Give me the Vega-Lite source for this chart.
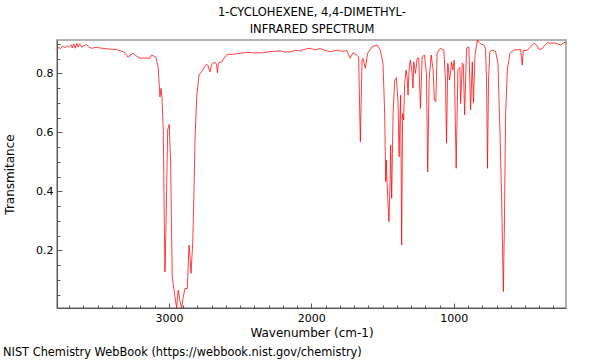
{
  "$schema": "https://vega.github.io/schema/vega-lite/v6.json",
  "width": 509,
  "height": 268,
  "autosize": {"type": "none"},
  "padding": {"left": 57, "top": 40, "right": 34, "bottom": 52},
  "background": "white",
  "config": {
    "font": "DejaVu Sans",
    "view": {"stroke": "#999999", "strokeWidth": 1.5}
  },
  "title": {
    "text": "NIST Chemistry WebBook (https://webbook.nist.gov/chemistry)",
    "orient": "bottom",
    "anchor": "start",
    "frame": "group",
    "dx": -54,
    "offset": 9,
    "fontSize": 11.4,
    "fontWeight": "normal",
    "color": "#000000"
  },
  "data": {
    "values": [
      {"wn": 3786, "T": 0.879}, {"wn": 3774, "T": 0.888}, {"wn": 3760, "T": 0.884}, {"wn": 3746, "T": 0.893},
      {"wn": 3732, "T": 0.886}, {"wn": 3718, "T": 0.894}, {"wn": 3704, "T": 0.889}, {"wn": 3689, "T": 0.897},
      {"wn": 3679, "T": 0.886}, {"wn": 3668, "T": 0.899}, {"wn": 3658, "T": 0.885}, {"wn": 3647, "T": 0.902},
      {"wn": 3637, "T": 0.889}, {"wn": 3626, "T": 0.9}, {"wn": 3612, "T": 0.888}, {"wn": 3598, "T": 0.893},
      {"wn": 3579, "T": 0.898}, {"wn": 3563, "T": 0.889}, {"wn": 3542, "T": 0.885}, {"wn": 3509, "T": 0.888},
      {"wn": 3485, "T": 0.886}, {"wn": 3450, "T": 0.884}, {"wn": 3415, "T": 0.882}, {"wn": 3368, "T": 0.881},
      {"wn": 3338, "T": 0.876}, {"wn": 3317, "T": 0.872}, {"wn": 3302, "T": 0.865}, {"wn": 3286, "T": 0.854},
      {"wn": 3274, "T": 0.862}, {"wn": 3251, "T": 0.868}, {"wn": 3232, "T": 0.86}, {"wn": 3204, "T": 0.851},
      {"wn": 3169, "T": 0.852}, {"wn": 3134, "T": 0.851}, {"wn": 3122, "T": 0.862}, {"wn": 3106, "T": 0.858},
      {"wn": 3091, "T": 0.854}, {"wn": 3075, "T": 0.817}, {"wn": 3063, "T": 0.72}, {"wn": 3056, "T": 0.749},
      {"wn": 3049, "T": 0.72}, {"wn": 3040, "T": 0.608}, {"wn": 3028, "T": 0.127}, {"wn": 3021, "T": 0.269},
      {"wn": 3009, "T": 0.608}, {"wn": 2998, "T": 0.627}, {"wn": 2988, "T": 0.496}, {"wn": 2977, "T": 0.11},
      {"wn": 2958, "T": 0.043}, {"wn": 2946, "T": 0.004}, {"wn": 2935, "T": 0.065}, {"wn": 2923, "T": 0.03},
      {"wn": 2911, "T": 0.004}, {"wn": 2899, "T": 0.043}, {"wn": 2887, "T": 0.071}, {"wn": 2871, "T": 0.07},
      {"wn": 2859, "T": 0.218}, {"wn": 2852, "T": 0.178}, {"wn": 2845, "T": 0.122}, {"wn": 2833, "T": 0.224},
      {"wn": 2824, "T": 0.404}, {"wn": 2817, "T": 0.574}, {"wn": 2805, "T": 0.72}, {"wn": 2789, "T": 0.794},
      {"wn": 2770, "T": 0.805}, {"wn": 2754, "T": 0.82}, {"wn": 2735, "T": 0.831}, {"wn": 2726, "T": 0.826},
      {"wn": 2712, "T": 0.805}, {"wn": 2701, "T": 0.828}, {"wn": 2693, "T": 0.834}, {"wn": 2676, "T": 0.837},
      {"wn": 2666, "T": 0.83}, {"wn": 2660, "T": 0.802}, {"wn": 2653, "T": 0.83}, {"wn": 2646, "T": 0.837},
      {"wn": 2629, "T": 0.839}, {"wn": 2613, "T": 0.852}, {"wn": 2590, "T": 0.864}, {"wn": 2548, "T": 0.865},
      {"wn": 2501, "T": 0.868}, {"wn": 2453, "T": 0.871}, {"wn": 2395, "T": 0.869}, {"wn": 2337, "T": 0.87},
      {"wn": 2289, "T": 0.874}, {"wn": 2219, "T": 0.876}, {"wn": 2184, "T": 0.872}, {"wn": 2149, "T": 0.873},
      {"wn": 2114, "T": 0.878}, {"wn": 2078, "T": 0.876}, {"wn": 2043, "T": 0.882}, {"wn": 2008, "T": 0.885},
      {"wn": 1973, "T": 0.88}, {"wn": 1938, "T": 0.884}, {"wn": 1903, "T": 0.878}, {"wn": 1867, "T": 0.873},
      {"wn": 1820, "T": 0.879}, {"wn": 1790, "T": 0.875}, {"wn": 1750, "T": 0.877}, {"wn": 1727, "T": 0.851},
      {"wn": 1708, "T": 0.87}, {"wn": 1684, "T": 0.862}, {"wn": 1668, "T": 0.856}, {"wn": 1656, "T": 0.568},
      {"wn": 1644, "T": 0.845}, {"wn": 1637, "T": 0.851}, {"wn": 1621, "T": 0.817}, {"wn": 1605, "T": 0.868},
      {"wn": 1574, "T": 0.89}, {"wn": 1539, "T": 0.896}, {"wn": 1516, "T": 0.879}, {"wn": 1497, "T": 0.834},
      {"wn": 1485, "T": 0.664}, {"wn": 1478, "T": 0.433}, {"wn": 1474, "T": 0.506}, {"wn": 1469, "T": 0.438},
      {"wn": 1462, "T": 0.359}, {"wn": 1455, "T": 0.297}, {"wn": 1447, "T": 0.438}, {"wn": 1443, "T": 0.557},
      {"wn": 1436, "T": 0.376}, {"wn": 1426, "T": 0.664}, {"wn": 1415, "T": 0.777}, {"wn": 1403, "T": 0.785},
      {"wn": 1391, "T": 0.698}, {"wn": 1384, "T": 0.517}, {"wn": 1377, "T": 0.664}, {"wn": 1373, "T": 0.726},
      {"wn": 1366, "T": 0.218}, {"wn": 1359, "T": 0.664}, {"wn": 1352, "T": 0.642}, {"wn": 1345, "T": 0.766},
      {"wn": 1335, "T": 0.811}, {"wn": 1328, "T": 0.789}, {"wn": 1321, "T": 0.726}, {"wn": 1314, "T": 0.811},
      {"wn": 1305, "T": 0.845}, {"wn": 1293, "T": 0.8}, {"wn": 1286, "T": 0.75}, {"wn": 1281, "T": 0.839},
      {"wn": 1269, "T": 0.8}, {"wn": 1257, "T": 0.851}, {"wn": 1246, "T": 0.852}, {"wn": 1234, "T": 0.681},
      {"wn": 1222, "T": 0.856}, {"wn": 1206, "T": 0.862}, {"wn": 1192, "T": 0.8}, {"wn": 1183, "T": 0.466},
      {"wn": 1173, "T": 0.777}, {"wn": 1159, "T": 0.862}, {"wn": 1145, "T": 0.811}, {"wn": 1136, "T": 0.709},
      {"wn": 1126, "T": 0.704}, {"wn": 1117, "T": 0.868}, {"wn": 1094, "T": 0.885}, {"wn": 1070, "T": 0.879},
      {"wn": 1058, "T": 0.777}, {"wn": 1051, "T": 0.563}, {"wn": 1042, "T": 0.834}, {"wn": 1030, "T": 0.777},
      {"wn": 1023, "T": 0.8}, {"wn": 1016, "T": 0.839}, {"wn": 1006, "T": 0.811}, {"wn": 997, "T": 0.845},
      {"wn": 983, "T": 0.478}, {"wn": 971, "T": 0.811}, {"wn": 957, "T": 0.82}, {"wn": 952, "T": 0.698},
      {"wn": 940, "T": 0.835}, {"wn": 933, "T": 0.83}, {"wn": 924, "T": 0.659}, {"wn": 910, "T": 0.885},
      {"wn": 894, "T": 0.89}, {"wn": 882, "T": 0.676}, {"wn": 870, "T": 0.839}, {"wn": 862, "T": 0.7},
      {"wn": 851, "T": 0.86}, {"wn": 834, "T": 0.913}, {"wn": 822, "T": 0.905}, {"wn": 812, "T": 0.9},
      {"wn": 789, "T": 0.896}, {"wn": 777, "T": 0.885}, {"wn": 770, "T": 0.777}, {"wn": 763, "T": 0.478},
      {"wn": 756, "T": 0.777}, {"wn": 747, "T": 0.873}, {"wn": 730, "T": 0.879}, {"wn": 707, "T": 0.875},
      {"wn": 690, "T": 0.834}, {"wn": 676, "T": 0.608}, {"wn": 664, "T": 0.382}, {"wn": 652, "T": 0.06},
      {"wn": 645, "T": 0.269}, {"wn": 636, "T": 0.664}, {"wn": 624, "T": 0.811}, {"wn": 606, "T": 0.868},
      {"wn": 578, "T": 0.879}, {"wn": 531, "T": 0.881}, {"wn": 519, "T": 0.828}, {"wn": 512, "T": 0.877},
      {"wn": 484, "T": 0.878}, {"wn": 465, "T": 0.888}, {"wn": 437, "T": 0.902}, {"wn": 418, "T": 0.895},
      {"wn": 402, "T": 0.881}, {"wn": 378, "T": 0.884}, {"wn": 362, "T": 0.895}, {"wn": 343, "T": 0.904},
      {"wn": 320, "T": 0.902}, {"wn": 296, "T": 0.903}, {"wn": 277, "T": 0.901}, {"wn": 249, "T": 0.896},
      {"wn": 228, "T": 0.904}, {"wn": 212, "T": 0.905}
    ]
  },
  "layer": [
    {
      "mark": {"type": "line", "color": "#ff0000", "strokeWidth": 1, "opacity": 0.75, "clip": true},
      "encoding": {
        "x": {
          "field": "wn", "type": "quantitative",
          "scale": {"domain": [212, 3786], "reverse": true, "zero": false, "nice": false},
          "axis": {
            "values": [300, 400, 500, 600, 700, 800, 900, 1000, 1100, 1200, 1300, 1400, 1500, 1600, 1700, 1800, 1900, 2000, 2100, 2200, 2300, 2400, 2500, 2600, 2700, 2800, 2900, 3000, 3100, 3200, 3300, 3400, 3500, 3600, 3700],
            "labelExpr": "datum.value % 1000 == 0 ? format(datum.value, 'd') : ''",
            "tickSize": {"condition": {"test": "datum.value % 1000 == 0", "value": -5}, "value": -3},
            "labelPadding": 9,
            "labelFontSize": 11,
            "labelColor": "#000000",
            "labelFlush": false,
            "grid": false,
            "domainColor": "#555555",
            "tickColor": "#555555",
            "title": "Wavenumber (cm-1)",
            "titleFontSize": 12,
            "titleFontWeight": "normal",
            "titleColor": "#000000",
            "titlePadding": 4
          }
        },
        "y": {
          "field": "T", "type": "quantitative",
          "scale": {"domain": [0.0044, 0.913], "zero": false, "nice": false},
          "axis": {
            "values": [0.05, 0.1, 0.15, 0.2, 0.25, 0.3, 0.35, 0.4, 0.45, 0.5, 0.55, 0.6, 0.65, 0.7, 0.75, 0.8, 0.85, 0.9],
            "labelExpr": "(round(datum.value * 100) % 20 == 0) ? format(datum.value, '.1f') : ''",
            "tickSize": {"condition": {"test": "round(datum.value * 100) % 20 == 0", "value": -5}, "value": -3},
            "labelPadding": 9,
            "labelFontSize": 11,
            "labelColor": "#000000",
            "labelFlush": false,
            "labelOverlap": false,
            "grid": false,
            "domainColor": "#555555",
            "tickColor": "#555555",
            "title": "Transmitance",
            "titleFontSize": 12,
            "titleFontWeight": "normal",
            "titleColor": "#000000",
            "titlePadding": 19
          }
        }
      }
    },
    {
      "mark": {"type": "rule", "opacity": 0},
      "encoding": {
        "x": {
          "field": "wn", "type": "quantitative",
          "axis": {
            "orient": "top",
            "labels": false,
            "ticks": false,
            "domain": false,
            "grid": false,
            "title": ["1-CYCLOHEXENE, 4,4-DIMETHYL-", "INFRARED SPECTRUM"],
            "titleFontSize": 11.5,
            "titleFontWeight": "normal",
            "titleColor": "#000000",
            "titleLineHeight": 17,
            "titlePadding": 6
          }
        }
      }
    }
  ],
  "resolve": {"axis": {"x": "independent"}}
}
